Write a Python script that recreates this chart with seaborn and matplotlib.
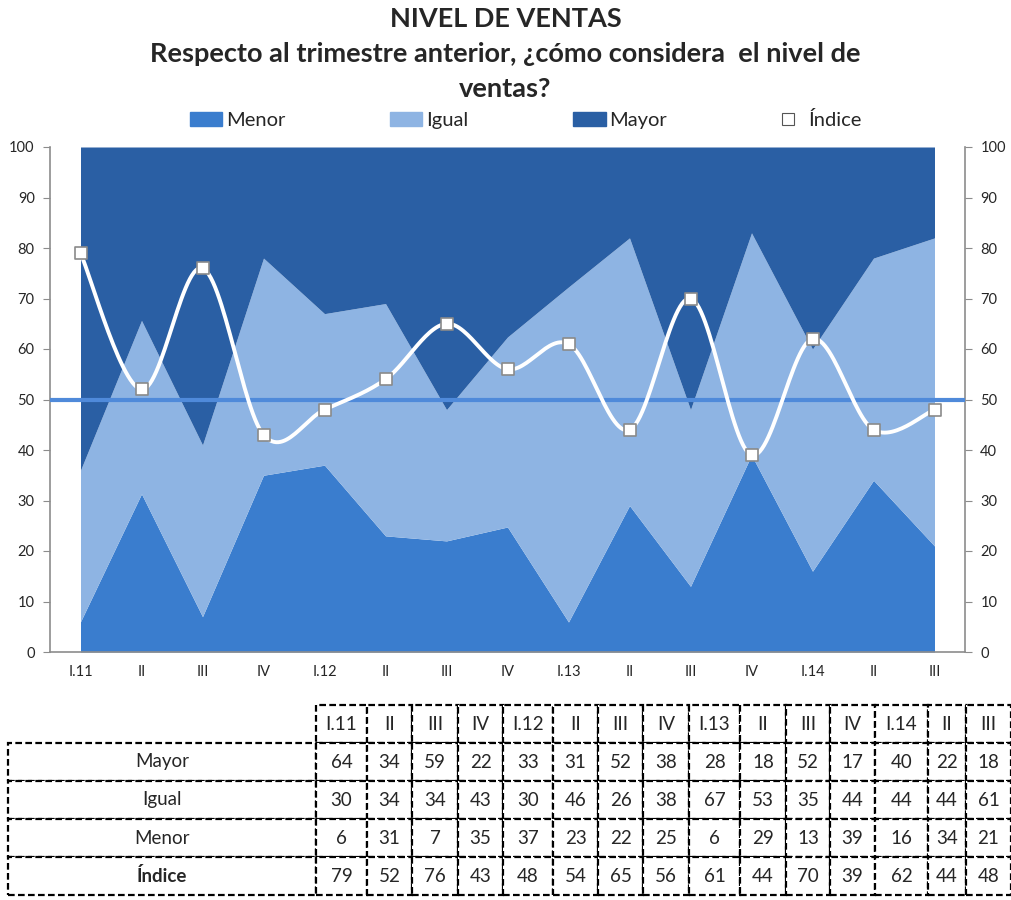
# nivel_de_ventas.py

import numpy as np
import seaborn as sns
import matplotlib.pyplot as plt
from matplotlib.patches import Patch
from matplotlib.lines import Line2D

# Data (percent of answers per quarter)
trimestres = ["I.11", "II", "III", "IV", "I.12", "II", "III", "IV",
              "I.13", "II", "III", "IV", "I.14", "II", "III"]
mayor = [64, 34, 59, 22, 33, 31, 52, 38, 28, 18, 52, 17, 40, 22, 18]
igual = [30, 34, 34, 43, 30, 46, 26, 38, 67, 53, 35, 44, 44, 44, 61]
menor = [6, 31, 7, 35, 37, 23, 22, 25, 6, 29, 13, 39, 16, 34, 21]
indice = [79, 52, 76, 43, 48, 54, 65, 56, 61, 44, 70, 39, 62, 44, 48]

# Colours
c_menor = "#3A7DCE"
c_igual = "#8EB4E3"
c_mayor = "#2A5FA4"
c_ref = "#4F8ADA"
c_axis = "#8C8C8C"

sns.set_style("white")
plt.rcParams['font.family'] = ['Lato', 'DejaVu Sans']


def smooth(y, n=30):
    # Catmull-Rom style bezier smoothing, like the spreadsheet "smoothed line"
    y = np.asarray(y, dtype=float)
    x = np.arange(len(y), dtype=float)
    xs, ys = [], []
    for i in range(len(y) - 1):
        i0, i3 = max(i - 1, 0), min(i + 2, len(y) - 1)
        p0 = np.array([x[i], y[i]])
        p3 = np.array([x[i + 1], y[i + 1]])
        c1 = p0 + (p3 - np.array([x[i0], y[i0]])) / 6
        c2 = p3 - (np.array([x[i3], y[i3]]) - p0) / 6
        t = np.linspace(0, 1, n)[:, None]
        pts = (1 - t) ** 3 * p0 + 3 * (1 - t) ** 2 * t * c1 + 3 * (1 - t) * t ** 2 * c2 + t ** 3 * p3
        xs.append(pts[:, 0])
        ys.append(pts[:, 1])
    return np.concatenate(xs), np.concatenate(ys)


fig = plt.figure(figsize=(10.11, 9), dpi=100)
ax = fig.add_axes([50 / 1011, 1 - 652 / 900, 915 / 1011, 505 / 900])

# 100% stacked area
x = np.arange(len(trimestres))
stack = np.array([menor, igual, mayor], dtype=float)
stack = stack / stack.sum(axis=0) * 100
ax.stackplot(x, stack, colors=[c_menor, c_igual, c_mayor], linewidth=0)
ax.axhline(50, color=c_ref, lw=3, zorder=3)

sx, sy = smooth(indice)
ax.plot(sx, sy, color="white", lw=2.8, zorder=4, solid_capstyle="round")
sns.scatterplot(x=x, y=indice, ax=ax, marker="s", s=85, color="white",
                edgecolor="#8A8A8A", linewidth=1.2, zorder=5, legend=False)

ax.set_xlim(-0.5, len(trimestres) - 0.5)
ax.set_ylim(0, 100)
ax.set_yticks(range(0, 101, 10))
ax.set_xticks(x)
ax.set_xticklabels(trimestres, fontsize=10.5)
ax.set_xticks(np.arange(-0.5, len(trimestres)), minor=True)
ax.tick_params(axis="x", which="major", length=0, pad=9)
ax.tick_params(axis="x", which="minor", length=5, color=c_axis, direction="out")
ax.tick_params(axis="y", which="major", left=True, right=True, labelleft=True,
               labelright=True, length=5, color=c_axis, direction="out",
               labelsize=10.5, pad=6)
for side in ["left", "right", "bottom"]:
    ax.spines[side].set_color(c_axis)
    ax.spines[side].set_linewidth(1.2)
ax.spines["top"].set_visible(False)
ax.set_xlabel("")
ax.set_ylabel("")

fig.text(0.5, 1 - 7 / 900,
         "NIVEL DE VENTAS\nRespecto al trimestre anterior, ¿cómo considera  el nivel de\nventas?",
         ha="center", va="top", fontsize=19.5, fontweight="bold", linespacing=1.55)

handles = [Patch(color=c_menor, label="Menor"),
           Patch(color=c_igual, label="Igual"),
           Patch(color=c_mayor, label="Mayor"),
           Line2D([], [], marker="s", ls="none", markersize=8, markerfacecolor="white",
                  markeredgecolor="#555555", markeredgewidth=0.8, label="Índice")]
fig.legend(handles=handles, loc="center", bbox_to_anchor=(0.52, 1 - 120 / 900),
           ncol=4, frameon=False, fontsize=14.5, handlelength=1.6, handleheight=0.75,
           handletextpad=0.2, columnspacing=5.2)

# Data table under the chart
tab = fig.add_axes([8 / 1011, 1 - 895 / 900, 1003 / 1011, 190 / 900])
tab.axis("off")
rows = [("Mayor", mayor), ("Igual", igual), ("Menor", menor), ("Índice", indice)]
cell_text = [[""] + trimestres] + [[name] + [str(v) for v in vals] for name, vals in rows]
col_w = [308, 51, 45, 46, 45, 50, 45, 45, 46, 51, 46, 44, 45, 53, 38, 45]
col_w = [w / sum(col_w) for w in col_w]
table = tab.table(cellText=cell_text, colWidths=col_w, cellLoc="center",
                  bbox=[0, 0, 1, 1])
table.auto_set_font_size(False)
table.set_fontsize(13.5)
for (r, c), cell in table.get_celld().items():
    cell.set_linestyle((0, (3, 1.5)))
    cell.set_linewidth(1.6)
    cell.set_edgecolor("black")
    if r == 0 and c == 0:
        cell.set_edgecolor("none")
    if r == 4 and c == 0:
        cell.get_text().set_fontweight("bold")

fig.savefig("out.png", dpi=100)
